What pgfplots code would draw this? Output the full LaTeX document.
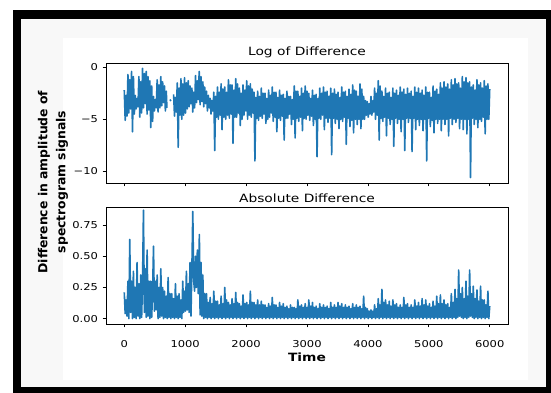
\documentclass[border=0pt]{standalone}
\usepackage{fontspec}
\setmainfont{DejaVu Sans}
\usepackage{pgfplots}
\pgfplotsset{compat=1.18}
\definecolor{mplblue}{HTML}{1F77B4}
\definecolor{bgray}{HTML}{F8F8F8}
\begin{document}
\begin{tikzpicture}[x=1pt,y=1pt]
\useasboundingbox (0,0) rectangle (551,393);
\fill[white] (0,0) rectangle (551,393);
\fill[black] (13,0) rectangle (551,383);
\fill[bgray] (21,6) rectangle (546,374);
\fill[white] (63,13) rectangle (528,355);
\pgfplotsset{
  mystyle/.style={
    scale only axis, width=402pt, anchor=south west,
    xmin=-300, xmax=6300,
    tick align=outside, tick pos=left,
    major tick length=3.5pt,
    tick style={black, line width=0.8pt},
    every axis/.append style={line width=0.8pt},
    xtick={0,1000,2000,3000,4000,5000,6000},
    tick label style={font=\fontsize{9.5}{11}\selectfont, xscale=1.21},
    xticklabel style={yshift=-9.5pt},
    title style={font=\fontsize{11.4}{13}\selectfont, xscale=1.21, yshift=-5pt},
    unbounded coords=jump,
  }
}
\begin{axis}[mystyle, at={(106pt,210pt)}, height=120pt,
  ymin=-11.125, ymax=0.41, ytick={-10,-5,0}, yticklabels={−10,−5,0},
  xticklabels={}, title={Log of Difference}]
\addplot[mplblue, line width=1.6pt, line join=round] table[row sep=\\] {
x y\\
0 -2.2\\ 15 -5.1\\ 30 -2.7\\ 45 -4.7\\
60 -0.7\\ 75 -4.4\\ 90 -1.2\\ 105 -4.0\\
120 -0.4\\ 135 -6.2\\ 150 -0.9\\ 165 -4.5\\
180 -2.7\\ 195 -4.0\\ 210 -3.0\\ 225 -3.8\\
240 -0.9\\ 255 -4.8\\ 270 -1.4\\ 285 -4.4\\
300 -0.1\\ 315 -3.9\\ 330 -0.6\\ 345 -3.5\\
360 -0.4\\ 375 -4.5\\ 390 -0.9\\ 405 -4.1\\
420 -1.3\\ 435 -5.8\\ 450 -1.8\\ 465 -5.2\\
480 -2.8\\ 495 -4.2\\ 510 -3.1\\ 525 -3.9\\
540 -1.2\\ 555 -4.3\\ 570 -1.7\\ 585 -3.9\\
600 -0.9\\ 615 -3.7\\ 630 -1.4\\ 645 -3.4\\
660 -1.8\\ 675 -4.2\\ 690 -2.3\\ 700 -3.9\\
720 nan\\ 750 -3.1\\ 765 -3.25\\ 780 nan\\
810 -2.6\\ 825 -4.7\\ 840 -2.9\\ 855 -4.3\\
870 -1.5\\ 885 -7.7\\ 900 -2.0\\ 915 -4.6\\
930 -1.1\\ 945 -5.0\\ 960 -1.6\\ 975 -4.6\\
990 -1.0\\ 1005 -4.4\\ 1020 -1.5\\ 1035 -4.0\\
1050 -1.3\\ 1065 -3.8\\ 1080 -1.8\\ 1095 -3.5\\
1110 -2.0\\ 1125 -4.3\\ 1140 -2.4\\ 1155 -3.9\\
1170 -0.8\\ 1185 -3.4\\ 1200 -1.3\\ 1215 -3.1\\
1230 -0.4\\ 1245 -3.6\\ 1260 -0.9\\ 1275 -3.3\\
1290 -1.4\\ 1305 -3.8\\ 1320 -1.9\\ 1335 -3.5\\
1350 -2.3\\ 1365 -4.2\\ 1380 -2.7\\ 1395 -3.9\\
1410 -3.0\\ 1425 -4.5\\ 1440 -3.2\\ 1455 -4.2\\
1470 -2.4\\ 1485 -8.0\\ 1500 -2.8\\ 1515 -4.8\\
1530 -1.9\\ 1545 -5.0\\ 1560 -2.4\\ 1575 -4.6\\
1590 -1.6\\ 1605 -6.0\\ 1620 -2.1\\ 1635 -4.8\\
1650 -1.9\\ 1665 -5.0\\ 1680 -2.4\\ 1695 -4.6\\
1710 -1.2\\ 1725 -4.9\\ 1740 -1.7\\ 1755 -4.5\\
1770 -1.7\\ 1785 -7.3\\ 1800 -2.2\\ 1815 -4.8\\
1830 -1.1\\ 1845 -4.8\\ 1860 -1.6\\ 1875 -4.4\\
1890 -2.0\\ 1905 -5.6\\ 1920 -2.5\\ 1935 -5.0\\
1950 -1.7\\ 1965 -4.6\\ 1980 -2.2\\ 1995 -4.2\\
2010 -1.3\\ 2025 -5.0\\ 2040 -1.8\\ 2055 -4.6\\
2070 -1.6\\ 2085 -4.8\\ 2100 -2.1\\ 2115 -4.4\\
2130 -2.4\\ 2145 -9.0\\ 2160 -2.9\\ 2175 -4.9\\
2190 -2.3\\ 2205 -5.1\\ 2220 -2.8\\ 2235 -4.7\\
2250 -2.0\\ 2265 -4.9\\ 2280 -2.5\\ 2295 -4.5\\
2310 -2.5\\ 2325 -5.4\\ 2340 -3.0\\ 2355 -5.0\\
2370 -2.2\\ 2385 -4.8\\ 2400 -2.7\\ 2415 -4.4\\
2430 -1.9\\ 2445 -5.2\\ 2460 -2.4\\ 2475 -4.8\\
2490 -2.4\\ 2505 -6.2\\ 2520 -2.9\\ 2535 -4.9\\
2550 -2.2\\ 2565 -5.1\\ 2580 -2.7\\ 2595 -4.7\\
2610 -2.6\\ 2625 -7.0\\ 2640 -3.0\\ 2655 -4.9\\
2670 -2.3\\ 2685 -4.9\\ 2700 -2.8\\ 2715 -4.5\\
2730 -2.8\\ 2745 -5.5\\ 2760 -3.1\\ 2775 -5.0\\
2790 -1.8\\ 2805 -6.8\\ 2820 -2.3\\ 2835 -4.9\\
2850 -2.3\\ 2865 -5.2\\ 2880 -2.8\\ 2895 -4.8\\
2910 -2.0\\ 2925 -6.1\\ 2940 -2.5\\ 2955 -4.9\\
2970 -1.8\\ 2985 -5.0\\ 3000 -2.3\\ 3015 -4.6\\
3030 -2.5\\ 3045 -5.1\\ 3060 -3.0\\ 3075 -4.7\\
3090 -2.2\\ 3105 -5.6\\ 3120 -2.7\\ 3135 -5.0\\
3150 -2.6\\ 3165 -8.6\\ 3180 -3.0\\ 3195 -4.9\\
3210 -2.0\\ 3225 -5.0\\ 3240 -2.5\\ 3255 -4.6\\
3270 -1.9\\ 3285 -6.0\\ 3300 -2.4\\ 3315 -4.9\\
3330 -2.3\\ 3345 -5.3\\ 3360 -2.8\\ 3375 -4.9\\
3390 -2.0\\ 3405 -8.4\\ 3420 -2.5\\ 3435 -4.9\\
3450 -2.1\\ 3465 -5.4\\ 3480 -2.6\\ 3495 -5.0\\
3510 -2.4\\ 3525 -5.9\\ 3540 -2.9\\ 3555 -5.0\\
3570 -1.9\\ 3585 -5.2\\ 3600 -2.4\\ 3615 -4.8\\
3630 -2.3\\ 3645 -7.4\\ 3660 -2.8\\ 3675 -4.9\\
3690 -2.1\\ 3705 -5.7\\ 3720 -2.6\\ 3735 -5.1\\
3750 -1.7\\ 3765 -6.3\\ 3780 -2.2\\ 3795 -5.0\\
3810 -2.3\\ 3825 -5.5\\ 3840 -2.8\\ 3855 -5.0\\
3870 -1.6\\ 3885 -5.9\\ 3900 -2.1\\ 3915 -5.0\\
3930 -2.8\\ 3945 -5.0\\ 3960 -3.2\\ 3975 -4.6\\
3990 -3.3\\ 4005 -4.8\\ 4020 -3.5\\ 4035 -4.5\\
4050 -2.8\\ 4065 -4.6\\ 4080 -3.2\\ 4095 -4.3\\
4110 -2.0\\ 4125 -5.0\\ 4140 -2.5\\ 4155 -4.6\\
4170 -1.3\\ 4185 -7.0\\ 4200 -1.8\\ 4215 -4.9\\
4230 -2.3\\ 4245 -5.2\\ 4260 -2.8\\ 4275 -4.8\\
4290 -2.0\\ 4305 -6.6\\ 4320 -2.5\\ 4335 -4.9\\
4350 -2.4\\ 4365 -5.5\\ 4380 -2.9\\ 4395 -5.0\\
4410 -2.0\\ 4425 -7.6\\ 4440 -2.5\\ 4455 -4.9\\
4470 -2.2\\ 4485 -5.4\\ 4500 -2.7\\ 4515 -5.0\\
4530 -1.9\\ 4545 -6.2\\ 4560 -2.4\\ 4575 -5.0\\
4590 -2.1\\ 4605 -8.0\\ 4620 -2.6\\ 4635 -4.9\\
4650 -2.0\\ 4665 -5.3\\ 4680 -2.5\\ 4695 -4.9\\
4710 -2.3\\ 4725 -8.1\\ 4740 -2.8\\ 4755 -4.9\\
4770 -1.9\\ 4785 -6.0\\ 4800 -2.4\\ 4815 -5.0\\
4830 -2.0\\ 4845 -5.6\\ 4860 -2.5\\ 4875 -5.0\\
4890 -2.2\\ 4905 -6.1\\ 4920 -2.7\\ 4935 -5.0\\
4950 -1.9\\ 4965 -9.0\\ 4980 -2.4\\ 4995 -4.9\\
5010 -2.4\\ 5025 -5.7\\ 5040 -2.9\\ 5055 -5.1\\
5070 -1.8\\ 5085 -6.3\\ 5100 -2.3\\ 5115 -5.0\\
5130 -2.1\\ 5145 -5.4\\ 5160 -2.6\\ 5175 -5.0\\
5190 -1.5\\ 5205 -6.1\\ 5220 -2.0\\ 5235 -5.0\\
5250 -1.4\\ 5265 -5.5\\ 5280 -1.9\\ 5295 -5.0\\
5310 -1.6\\ 5325 -6.6\\ 5340 -2.1\\ 5355 -4.9\\
5370 -1.2\\ 5385 -5.5\\ 5400 -1.7\\ 5415 -5.0\\
5430 -1.1\\ 5445 -5.3\\ 5460 -1.6\\ 5475 -4.9\\
5490 -1.5\\ 5505 -5.9\\ 5520 -2.0\\ 5535 -5.0\\
5550 -0.9\\ 5565 -6.0\\ 5580 -1.4\\ 5595 -5.0\\
5610 -1.0\\ 5625 -6.4\\ 5640 -1.5\\ 5655 -5.0\\
5670 -1.4\\ 5685 -10.6\\ 5700 -1.9\\ 5715 -4.9\\
5730 -1.7\\ 5745 -5.5\\ 5760 -2.2\\ 5775 -5.0\\
5790 -1.2\\ 5805 -5.8\\ 5820 -1.7\\ 5835 -5.0\\
5850 -1.5\\ 5865 -5.2\\ 5880 -2.0\\ 5895 -4.8\\
5910 -1.3\\ 5925 -6.4\\ 5940 -1.8\\ 5955 -5.0\\
5970 -1.6\\ 5985 -5.0\\ 6000 -2.1\\
};
\end{axis}
\begin{axis}[mystyle, at={(106pt,69pt)}, height=117pt,
  ymin=-0.043, ymax=0.895, ytick={0,0.25,0.5,0.75}, yticklabels={0.00,0.25,0.50,0.75},
  xticklabels={0,1000,2000,3000,4000,5000,6000},
  title={Absolute Difference},
  xlabel={Time}, xlabel style={font=\bfseries\fontsize{11.4}{13}\selectfont, xscale=1.21, yshift=2pt}]
\addplot[mplblue, line width=1.6pt, line join=round] table[row sep=\\] {
x y\\
0 0.21\\ 15 0.04\\ 30 0.15\\ 45 0.02\\
60 0.30\\ 75 0.0\\ 90 0.635\\ 105 0.05\\
120 0.30\\ 135 0.0\\ 150 0.38\\ 165 0.01\\
180 0.25\\ 195 0.0\\ 210 0.45\\ 225 0.02\\
240 0.28\\ 255 0.0\\ 270 0.35\\ 285 0.01\\
300 0.30\\ 315 0.87\\ 330 0.05\\ 345 0.40\\
360 0.01\\ 375 0.55\\ 390 0.02\\ 405 0.30\\
420 0.0\\ 435 0.30\\ 450 0.01\\ 465 0.22\\
480 0.58\\ 495 0.06\\ 510 0.30\\ 525 0.07\\
540 0.35\\ 555 0.0\\ 570 0.25\\ 585 0.01\\
600 0.40\\ 615 0.02\\ 630 0.25\\ 645 0.0\\
660 0.22\\ 675 0.01\\ 690 0.18\\ 705 0.0\\
720 0.33\\ 735 0.01\\ 750 0.20\\ 765 0.0\\
780 0.20\\ 795 0.01\\ 810 0.16\\ 825 0.0\\
840 0.28\\ 855 0.01\\ 870 0.18\\ 885 0.0\\
900 0.20\\ 915 0.01\\ 930 0.15\\ 945 0.0\\
960 0.30\\ 975 0.05\\ 990 0.22\\ 1005 0.06\\
1020 0.38\\ 1035 0.07\\ 1050 0.28\\ 1065 0.05\\
1080 0.45\\ 1095 0.02\\ 1110 0.40\\ 1125 0.86\\
1140 0.30\\ 1155 0.22\\ 1170 0.50\\ 1185 0.25\\
1200 0.55\\ 1215 0.20\\ 1233 0.675\\ 1245 0.03\\
1260 0.45\\ 1275 0.02\\ 1290 0.35\\ 1305 0.0\\
1320 0.20\\ 1335 0.01\\
1350 0.20\\ 1365 0.0\\ 1380 0.13\\ 1395 0.01\\
1410 0.17\\ 1425 0.0\\ 1440 0.12\\ 1455 0.01\\
1470 0.22\\ 1485 0.0\\ 1500 0.14\\ 1515 0.01\\
1530 0.14\\ 1545 0.0\\ 1560 0.11\\ 1575 0.01\\
1590 0.18\\ 1605 0.0\\ 1620 0.12\\ 1635 0.01\\
1650 0.25\\ 1665 0.0\\ 1680 0.15\\ 1695 0.01\\
1710 0.13\\ 1725 0.0\\ 1740 0.11\\ 1755 0.01\\
1770 0.16\\ 1785 0.0\\ 1800 0.12\\ 1815 0.01\\
1830 0.21\\ 1845 0.0\\ 1860 0.13\\ 1875 0.01\\
1890 0.12\\ 1905 0.0\\ 1920 0.10\\ 1935 0.01\\
1950 0.19\\ 1965 0.0\\ 1980 0.12\\ 1995 0.01\\
2010 0.13\\ 2025 0.0\\ 2040 0.11\\ 2055 0.01\\
2070 0.22\\ 2085 0.0\\ 2100 0.13\\ 2115 0.01\\
2130 0.13\\ 2145 0.0\\ 2160 0.11\\ 2175 0.01\\
2190 0.15\\ 2205 0.0\\ 2220 0.11\\ 2235 0.01\\
2250 0.14\\ 2265 0.0\\ 2280 0.11\\ 2295 0.01\\
2310 0.11\\ 2325 0.0\\ 2340 0.09\\ 2355 0.01\\
2370 0.12\\ 2385 0.0\\ 2400 0.10\\ 2415 0.01\\
2430 0.17\\ 2445 0.0\\ 2460 0.11\\ 2475 0.01\\
2490 0.11\\ 2505 0.0\\ 2520 0.09\\ 2535 0.01\\
2550 0.13\\ 2565 0.0\\ 2580 0.10\\ 2595 0.01\\
2610 0.12\\ 2625 0.0\\ 2640 0.09\\ 2655 0.01\\
2670 0.10\\ 2685 0.0\\ 2700 0.08\\ 2715 0.01\\
2730 0.11\\ 2745 0.0\\ 2760 0.09\\ 2775 0.01\\
2790 0.09\\ 2805 0.0\\ 2820 0.08\\ 2835 0.01\\
2850 0.15\\ 2865 0.0\\ 2880 0.10\\ 2895 0.01\\
2910 0.11\\ 2925 0.0\\ 2940 0.09\\ 2955 0.01\\
2970 0.12\\ 2985 0.0\\ 3000 0.09\\ 3015 0.01\\
3030 0.15\\ 3045 0.0\\ 3060 0.10\\ 3075 0.01\\
3090 0.13\\ 3105 0.0\\ 3120 0.09\\ 3135 0.01\\
3150 0.10\\ 3165 0.0\\ 3180 0.08\\ 3195 0.01\\
3210 0.12\\ 3225 0.0\\ 3240 0.09\\ 3255 0.01\\
3270 0.11\\ 3285 0.0\\ 3300 0.09\\ 3315 0.01\\
3330 0.10\\ 3345 0.0\\ 3360 0.08\\ 3375 0.01\\
3390 0.13\\ 3405 0.0\\ 3420 0.09\\ 3435 0.01\\
3450 0.11\\ 3465 0.0\\ 3480 0.09\\ 3495 0.01\\
3510 0.13\\ 3525 0.0\\ 3540 0.10\\ 3555 0.01\\
3570 0.12\\ 3585 0.0\\ 3600 0.09\\ 3615 0.01\\
3630 0.11\\ 3645 0.0\\ 3660 0.09\\ 3675 0.01\\
3690 0.10\\ 3705 0.0\\ 3720 0.08\\ 3735 0.01\\
3750 0.12\\ 3765 0.0\\ 3780 0.09\\ 3795 0.01\\
3810 0.11\\ 3825 0.0\\ 3840 0.09\\ 3855 0.01\\
3870 0.10\\ 3885 0.0\\ 3900 0.08\\ 3915 0.01\\
3930 0.18\\ 3945 0.0\\ 3960 0.09\\ 3975 0.01\\
3990 0.08\\ 4005 0.0\\ 4020 0.06\\ 4035 0.01\\
4050 0.07\\ 4065 0.0\\ 4080 0.06\\ 4095 0.01\\
4110 0.11\\ 4125 0.0\\ 4140 0.08\\ 4155 0.01\\
4170 0.16\\ 4185 0.0\\ 4200 0.11\\ 4215 0.01\\
4230 0.235\\ 4245 0.0\\ 4260 0.13\\ 4275 0.01\\
4290 0.15\\ 4305 0.0\\ 4320 0.11\\ 4335 0.01\\
4350 0.14\\ 4365 0.0\\ 4380 0.10\\ 4395 0.01\\
4410 0.15\\ 4425 0.0\\ 4440 0.11\\ 4455 0.01\\
4470 0.12\\ 4485 0.0\\ 4500 0.09\\ 4515 0.01\\
4530 0.11\\ 4545 0.0\\ 4560 0.09\\ 4575 0.01\\
4590 0.17\\ 4605 0.0\\ 4620 0.11\\ 4635 0.01\\
4650 0.12\\ 4665 0.0\\ 4680 0.09\\ 4695 0.01\\
4710 0.11\\ 4725 0.0\\ 4740 0.09\\ 4755 0.01\\
4770 0.15\\ 4785 0.0\\ 4800 0.10\\ 4815 0.01\\
4830 0.13\\ 4845 0.0\\ 4860 0.10\\ 4875 0.01\\
4890 0.16\\ 4905 0.0\\ 4920 0.11\\ 4935 0.01\\
4950 0.15\\ 4965 0.0\\ 4980 0.10\\ 4995 0.01\\
5010 0.12\\ 5025 0.0\\ 5040 0.09\\ 5055 0.01\\
5070 0.14\\ 5085 0.0\\ 5100 0.10\\ 5115 0.01\\
5130 0.18\\ 5145 0.0\\ 5160 0.12\\ 5175 0.01\\
5190 0.19\\ 5205 0.0\\ 5220 0.12\\ 5235 0.01\\
5250 0.15\\ 5265 0.0\\ 5280 0.11\\ 5295 0.01\\
5310 0.12\\ 5325 0.0\\ 5340 0.09\\ 5355 0.01\\
5370 0.20\\ 5385 0.0\\ 5400 0.13\\ 5415 0.01\\
5430 0.235\\ 5445 0.0\\ 5460 0.16\\ 5475 0.01\\
5490 0.39\\ 5505 0.02\\ 5520 0.20\\ 5535 0.01\\
5550 0.25\\ 5565 0.0\\ 5580 0.16\\ 5595 0.01\\
5610 0.30\\ 5625 0.0\\ 5640 0.18\\ 5655 0.01\\
5670 0.39\\ 5685 0.02\\ 5700 0.20\\ 5715 0.01\\
5730 0.26\\ 5745 0.0\\ 5760 0.16\\ 5775 0.01\\
5790 0.23\\ 5805 0.0\\ 5820 0.14\\ 5835 0.01\\
5850 0.26\\ 5865 0.0\\ 5880 0.15\\ 5895 0.01\\
5910 0.15\\ 5925 0.0\\ 5940 0.11\\ 5955 0.01\\
5970 0.22\\ 5985 0.0\\ 6000 0.10\\
};
\end{axis}
\node[rotate=90, align=center, font=\bfseries\fontsize{12.4}{18}\selectfont] at (53,211) {Difference in amplitude of\\spectrogram signals};
\end{tikzpicture}
\end{document}
